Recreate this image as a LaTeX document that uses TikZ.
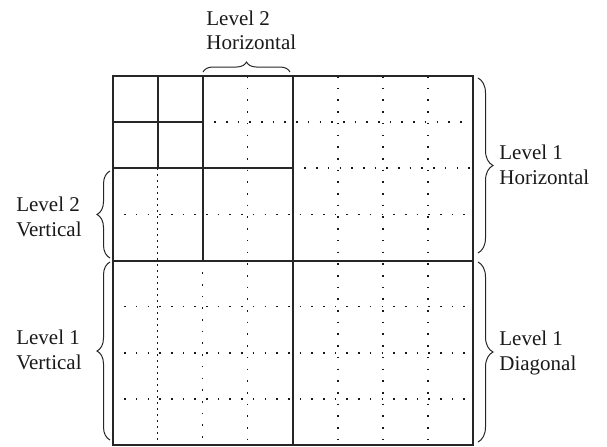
\documentclass[tikz,border=0pt]{standalone}
\usepackage{fontspec}
\setmainfont{Liberation Serif}
\usetikzlibrary{decorations.pathreplacing}
\begin{document}
\begin{tikzpicture}[x=0.5pt,y=-0.5pt,
  solidline/.style={line width=1pt, draw=black!85},
  dotline/.style={line width=0.8pt, draw=black!90, dash pattern=on 0.8pt off 5.05pt},
  densedot/.style={line width=0.8pt, draw=black!90, dash pattern=on 0.8pt off 2.2pt},
  bracedeco/.style={decorate, decoration={brace, amplitude=#1}, line width=0.5pt, draw=black!85},
  lbl/.style={font=\fontsize{10.5}{12.2}\selectfont, inner sep=0pt, align=left, text=black!90}]
\useasboundingbox (0,0) rectangle (607,446);
% dotted verticals
\draw[dotline] (247.7,76) -- (247.7,445);
\draw[dotline] (337.8,76) -- (337.8,445);
\draw[dotline] (382.9,76) -- (382.9,445);
\draw[dotline] (428,76) -- (428,445);
\draw[dotline] (202.6,260.5) -- (202.6,445);
\draw[densedot] (157.6,168.25) -- (157.6,445);
% dotted horizontals
\draw[dotline] (202.6,122.1) -- (473,122.1);
\draw[dotline] (292.75,168.25) -- (473,168.25);
\draw[dotline] (112.5,214.4) -- (473,214.4);
\draw[dotline] (112.5,306.6) -- (473,306.6);
\draw[dotline] (112.5,352.75) -- (473,352.75);
\draw[dotline] (112.5,398.9) -- (473,398.9);
% solid lines
\draw[solidline] (112.5,76) rectangle (473,445);
\draw[solidline] (292.75,76) -- (292.75,445);
\draw[solidline] (112.5,260.5) -- (473,260.5);
\draw[solidline] (202.6,76) -- (202.6,260.5);
\draw[solidline] (112.5,168.25) -- (292.75,168.25);
\draw[solidline] (157.6,76) -- (157.6,168.25);
\draw[solidline] (112.5,122.1) -- (202.6,122.1);
% braces
\draw[bracedeco=5pt] (203,72) -- (290,72);
\draw[bracedeco=7.5pt] (478,78) -- (478,253);
\draw[bracedeco=7.5pt] (478,262) -- (478,442);
\draw[bracedeco=6.5pt] (110,258) -- (110,171);
\draw[bracedeco=6.5pt] (110,440) -- (110,262);
% labels
\node[lbl, anchor=south west] (l2h) at (206,50) {Level 2\\Horizontal};
\node[lbl, anchor=west] (l1h) at (499,165) {Level 1\\Horizontal};
\node[lbl, anchor=west] (l1d) at (499,353) {Level 1\\Diagonal};
\node[lbl, anchor=east] (l2v) at (82,217) {Level 2\\Vertical};
\node[lbl, anchor=east] (l1v) at (82,350) {Level 1\\Vertical};
\end{tikzpicture}
\end{document}
